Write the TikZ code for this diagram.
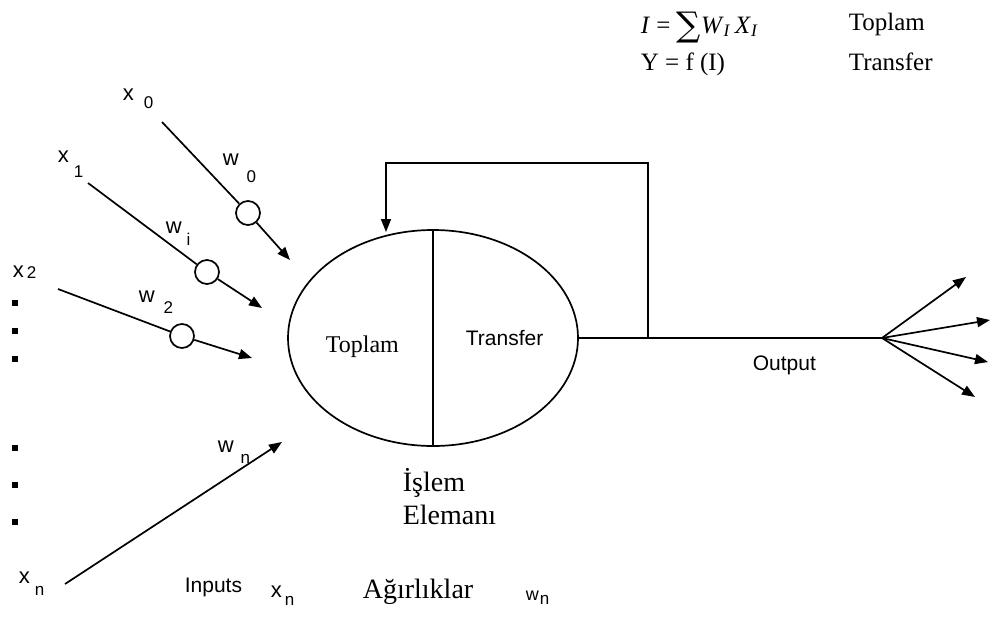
\documentclass[tikz,border=0pt]{standalone}
\usepackage{fontspec}
\setmainfont{Liberation Serif}
\newfontfamily\helv{Liberation Sans}
\newfontfamily\symf{DejaVu Serif}
\usetikzlibrary{arrows.meta,shapes.geometric,calc}

% letter with a lowered index: {letter}{index}{gap}{drop}
\newcommand{\lsub}[4]{#1\hspace{#3pt}\raisebox{-#4pt}{\fontsize{17}{17}\selectfont #2}}

\begin{document}
\begin{tikzpicture}[x=1pt,y=-1pt,line width=1.7pt,>={Triangle[length=13pt,width=10pt]},
     lb/.style={font={\helv\fontsize{22}{22}\selectfont},inner sep=0pt,anchor=base west},
     sl/.style={font={\helv\fontsize{21}{21}\selectfont},inner sep=0pt,anchor=base west},
     tx/.style={font={\fontsize{24}{33}\selectfont},inner sep=0pt,anchor=base west,align=left},
     bt/.style={tx,font={\fontsize{28}{33}\selectfont}},
     ft/.style={tx,font={\fontsize{25}{33}\selectfont}},
     wc/.style={circle,draw,fill=white,minimum size=24pt,inner sep=0pt},
     ar/.style={->}]
    \useasboundingbox (0,0) rectangle (990,616);

    % weighted inputs
    \coordinate (s0) at (162,122);
    \node[wc] (c0) at (248,213) {};
    \coordinate (t0) at (290,260);
    \coordinate (s1) at (88,183);
    \node[wc] (c1) at (207,272) {};
    \coordinate (t1) at (262,308);
    \coordinate (s2) at (58,289);
    \node[wc] (c2) at (182,336) {};
    \coordinate (t2) at (252,358);
    \coordinate (sn) at (65,584);
    \coordinate (tn) at (282,442);
    \draw (s0) -- (c0);
    \draw[ar] (c0) -- (t0);
    \draw (s1) -- (c1);
    \draw[ar] (c1) -- (t1);
    \draw (s2) -- (c2);
    \draw[ar] (c2) -- (t2);
    \draw[ar] (sn) -- (tn);

    \node[lb] (x0) at (122,100) {\lsub{x}{0}{10}{8}};
    \node[lb] (x1) at (57,162)  {\lsub{x}{1}{5}{15}};
    \node[lb] (x2) at (12,277)  {\lsub{x}{2}{3}{1}};
    \node[lb] (xn) at (18,583)  {\lsub{x}{n}{5}{12}};
    \node[lb] (w0) at (222,165) {\lsub{w}{0}{8}{17}};
    \node[lb] (wi) at (165,233) {\lsub{w}{i}{5}{12}};
    \node[lb] (w2) at (138,302) {\lsub{w}{2}{9}{11}};
    \node[lb] (wn) at (217,452) {\lsub{w}{n}{7}{11}};
    \foreach \y in {303,331,359,448,485,522}
      \fill (12,\y-3) rectangle ++(6,6);

    % processing element
    \node[ellipse,draw,minimum width=290pt,minimum height=216pt,inner sep=0pt] (pe) at (433,338) {};
    \draw (pe.north) -- (pe.south);
    \node[tx] (tp) at (325,352) {Toplam};
    \node[sl] (tr) at (465,345) {Transfer};
    \node[bt,anchor=north west] (pel) at (402,468) {İşlem\\Elemanı};

    % output and feedback
    \coordinate (fan) at (882,338);
    \coordinate (fb) at (648,338);
    \coordinate (fbc) at (648,163);
    \coordinate (fbin) at (386,232);
    \draw (pe.east) -- (fan);
    \draw[ar] (fb) -- (fbc) -| (fbin);
    \node[sl] (out) at (752,370) {Output};
    \coordinate (o1) at (966,277);
    \coordinate (o2) at (990,320);
    \coordinate (o3) at (988,362);
    \coordinate (o4) at (975,397);
    \foreach \o in {o1,o2,o3,o4}
      \draw[ar] (fan) -- (\o);

    % formulas
    \node[ft] (fsum) at (640,33)
      {\textit{I} = \raisebox{-3pt}{\symf\fontsize{34}{34}\selectfont ∑}\textit{W}\textsubscript{\textit{I}}\,\textit{X}\textsubscript{\textit{I}}};
    \node[ft] (fy) at (640,70) {Y = f (I)};
    \node[ft] (ftp) at (848,30) {Toplam};
    \node[ft] (ftr) at (848,70) {Transfer};

    % legend
    \node[sl] (inp) at (184,592) {Inputs};
    \node[lb] (xl) at (270,597) {\lsub{x}{n}{3}{8}};
    \node[bt] (agr) at (362,598) {Ağırlıklar};
    \node[lb,font={\helv\fontsize{18}{18}\selectfont}] (wl) at (525,600) {\lsub{w}{n}{1}{4}};
\end{tikzpicture}
\end{document}
